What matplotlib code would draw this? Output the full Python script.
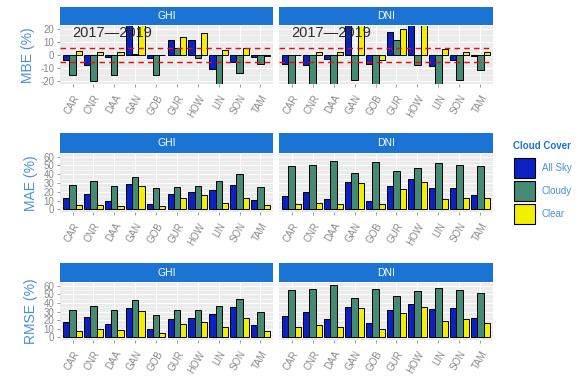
import numpy as np
import matplotlib
matplotlib.use("Agg")
import matplotlib.pyplot as plt
from matplotlib.patches import Rectangle

plt.rcParams['font.family'] = ['Liberation Sans', 'DejaVu Sans']

stations = ["CAR", "CNR", "DAA", "GAN", "GOB", "GUR", "HOW", "LIN", "SON", "TAM"]
covers = ["All Sky", "Cloudy", "Clear"]
components = ["GHI", "DNI"]
period_label = "2017\u20142019"

# MBE (%)
mbe_ghi_all = [-3.7, -7.5, -1.5, 24, -2, 11, 11, -10.5, -5, -1.5]
mbe_ghi_cloudy = [-15.5, -19.5, -15, 0.5, -15.5, 5, -2, -23, -14, -6.5]
mbe_ghi_clear = [3, 2, 2, 25, 0.3, 13.5, 16.5, 4, 5.5, -0.5]
mbe_dni_all = [-7, -7.5, -3, 28, -6.5, 17.5, 30, -8.5, -4, -0.5]
mbe_dni_cloudy = [-30, -28, -30, -19, -28, 11, -7.5, -25, -19, -11]
mbe_dni_clear = [0.3, 2, 2, 30, -4, 19.5, 28, 4.5, 2.5, 2.5]

# MAE (%)
mae_ghi_all = [12.4, 17, 9.3, 29, 6.2, 17.8, 20, 21.7, 28, 10.5]
mae_ghi_cloudy = [28, 32, 27, 36.4, 24, 26, 26.7, 32.5, 40, 25]
mae_ghi_clear = [4.6, 4.6, 4.3, 26.3, 3.5, 13.2, 16, 7, 12.8, 5.4]
mae_dni_all = [15.5, 20, 11.6, 31.7, 9.7, 26.7, 34.5, 24.8, 24.4, 16.6]
mae_dni_cloudy = [49.5, 51, 55.4, 41, 53.8, 44, 46.8, 53, 50.7, 49.5]
mae_dni_clear = [6.6, 7.7, 5.8, 30.2, 6.6, 23.2, 31.4, 12, 12.8, 12.4]

# RMSE (%)
rmse_ghi_all = [18, 23.8, 15, 34, 9.8, 21, 23, 27.2, 35, 14.7]
rmse_ghi_cloudy = [31.7, 36.2, 31.7, 43.4, 26.4, 31.3, 32, 36.2, 44.5, 29.8]
rmse_ghi_clear = [7.5, 9.8, 8.7, 30.2, 4.9, 15.5, 17.7, 12, 22.3, 7.5]
rmse_dni_all = [24.5, 29.4, 21, 35.5, 17, 31.3, 38.5, 33.2, 33.6, 22.3]
rmse_dni_cloudy = [54.7, 55.8, 60.4, 45.3, 56.2, 48.3, 54, 57, 54.7, 51.3]
rmse_dni_clear = [11.7, 14.7, 12, 33.6, 10.2, 28, 34.7, 18.5, 21.1, 17]

metrics = [
    ("MBE (%)", (mbe_ghi_all, mbe_ghi_cloudy, mbe_ghi_clear),
     (mbe_dni_all, mbe_dni_cloudy, mbe_dni_clear), [-20, -10, 0, 10, 20], (-22, 22)),
    ("MAE (%)", (mae_ghi_all, mae_ghi_cloudy, mae_ghi_clear),
     (mae_dni_all, mae_dni_cloudy, mae_dni_clear), [0, 10, 20, 30, 40, 50, 60], (-3, 63)),
    ("RMSE (%)", (rmse_ghi_all, rmse_ghi_cloudy, rmse_ghi_clear),
     (rmse_dni_all, rmse_dni_cloudy, rmse_dni_clear), [0, 10, 20, 30, 40, 50, 60], (-3, 63)),
]

bar_colors = ["#0A22C4", "#458B74", "#F2F000"]
strip_color = "#1B74D4"
title_blue = "#4A90D9"
tick_gray = "#8A8A8A"
panel_bg = "#EBEBEB"

W, H = 580, 376
fig = plt.figure(figsize=(W / 100, H / 100), dpi=100)
fig.patch.set_facecolor("white")

col_x = [(60, 273), (279, 493)]
rows = [  # strip top, panel top, panel bottom (pixels from top)
    (7, 26, 84),
    (133, 154, 212),
    (263, 283, 340),
]


def fig_rect(x0, x1, y0, y1):
    return [x0 / W, 1 - y1 / H, (x1 - x0) / W, (y1 - y0) / H]


x = np.arange(1, len(stations) + 1)
bw = 0.3
offsets = [-bw, 0, bw]

for r, (ylabel, ghi_vals, dni_vals, yticks, ylim) in enumerate(metrics):
    s_top, p_top, p_bot = rows[r]
    for c, (comp, vals) in enumerate(zip(components, (ghi_vals, dni_vals))):
        x0, x1 = col_x[c]
        # facet strip
        sax = fig.add_axes(fig_rect(x0, x1, s_top, p_top - 1))
        sax.set_facecolor(strip_color)
        sax.set_xticks([]); sax.set_yticks([])
        for sp in sax.spines.values():
            sp.set_visible(False)
        sax.text(0.5, 0.5, comp, color="white", fontsize=7.5,
                 ha="center", va="center", transform=sax.transAxes)

        ax = fig.add_axes(fig_rect(x0, x1, p_top, p_bot))
        ax.set_facecolor(panel_bg)
        for sp in ax.spines.values():
            sp.set_visible(False)
        ax.set_xlim(0.4, len(stations) + 0.6)
        ax.set_ylim(*ylim)
        ax.set_yticks(yticks)
        minor = [(a + b) / 2 for a, b in zip(yticks[:-1], yticks[1:])]
        ax.set_yticks(minor, minor=True)
        ax.grid(True, which="major", color="white", lw=0.8, zorder=0)
        ax.grid(True, which="minor", axis="y", color="white", lw=0.4, zorder=0)
        ax.set_axisbelow(True)
        ax.set_xticks(x)
        ax.set_xticklabels(stations, rotation=60, ha="right",
                           rotation_mode="anchor", fontsize=7, color=tick_gray)
        ax.tick_params(axis="both", colors=tick_gray, length=2.5, width=0.6,
                       labelsize=7, pad=1.5)
        ax.tick_params(axis="y", which="minor", length=0)
        ax.tick_params(axis="x", pad=4)
        if c == 0:
            ax.set_yticklabels([str(t) for t in yticks], color=tick_gray)
            ax.set_ylabel(ylabel, color=title_blue, fontsize=10, labelpad=4)
        else:
            ax.set_yticklabels([])
            ax.tick_params(axis="y", length=0)

        for k in range(3):
            ax.bar(x + offsets[k], vals[k], width=bw, color=bar_colors[k],
                   edgecolor="black", linewidth=0.7, zorder=2)

        if r == 0:
            for yv in (-5, 5):
                ax.axhline(yv, color="red", ls=(0, (4, 3)), lw=1.0, zorder=3)
            ax.text(2.9, 17, period_label, fontsize=10.5, color="#2B2B2B",
                    ha="center", va="center", zorder=4)

# legend
fig.text(513 / W, 1 - 146 / H, "Cloud Cover", fontsize=7, fontweight="bold",
         color=strip_color, ha="left", va="center")
key_tops = [158, 181, 204]
for k, lab in enumerate(covers):
    yt = key_tops[k]
    fig.patches.append(Rectangle((514 / W, 1 - (yt + 20) / H), 21 / W, 20 / H,
                                 transform=fig.transFigure, facecolor=bar_colors[k],
                                 edgecolor="black", linewidth=0.8))
    fig.text(542 / W, 1 - (yt + 10) / H, lab, fontsize=7, color=title_blue,
             ha="left", va="center")

fig.savefig("out.png", dpi=100)
